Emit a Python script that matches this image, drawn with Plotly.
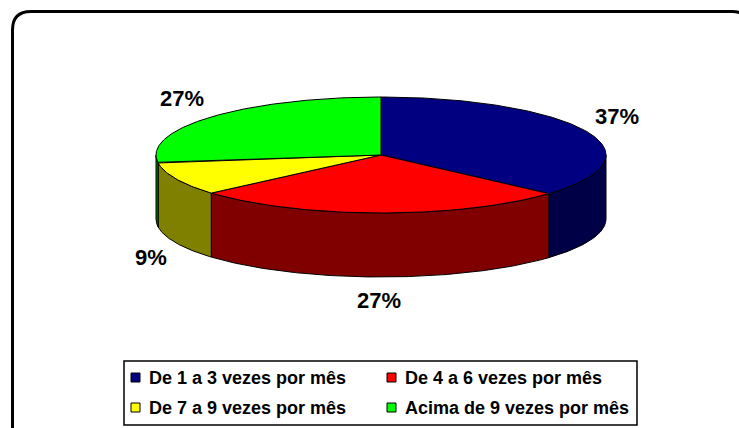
import numpy as np
import plotly.graph_objects as go

# ---- data ----
categories = ["De 1 a 3 vezes por mês", "De 4 a 6 vezes por mês",
              "De 7 a 9 vezes por mês", "Acima de 9 vezes por mês"]
values = [36.6, 27.0, 9.2, 27.2]   # percent shares (labels shown rounded)

# ---- style ----
top_colors = ["#000080", "#FF0000", "#FFFF00", "#00FF00"]
side_colors = ["#000046", "#800000", "#808000", "#008000"]
W, H = 739, 428
CX, CY, RX, RY, DEPTH = 381, 155, 225, 58, 64
FONT = "Liberation Sans, Arial, sans-serif"
LABEL_SIZE = 22

fig = go.Figure()

total = float(sum(values))
label_texts = ["%d%%" % int(round(v / total * 100)) for v in values]
starts, ends = [], []
acc = 0.0
for v in values:
    starts.append(acc / total * 360.0)
    acc += v
    ends.append(acc / total * 360.0)


def arc(a, b, dy=0.0, n=None):
    if n is None:
        n = max(4, int(abs(b - a) * 1.5))
    t = np.radians(np.linspace(a, b, n))
    return CX + RX * np.sin(t), CY - RY * np.cos(t) + dy


line = dict(color="black", width=1)

# side walls (front half only)
for i in range(len(values)):
    a = max(starts[i], 90.0)
    b = min(ends[i], 270.0)
    if b <= a:
        continue
    x1, y1 = arc(a, b)
    x2, y2 = arc(b, a, DEPTH)
    xs = np.concatenate([x1, x2, x1[:1]])
    ys = np.concatenate([y1, y2, y1[:1]])
    fig.add_trace(go.Scatter(x=xs, y=ys, mode="lines", fill="toself",
                             fillcolor=side_colors[i], line=line,
                             hoverinfo="skip", showlegend=False))

# top faces
for i in range(len(values)):
    x1, y1 = arc(starts[i], ends[i])
    xs = np.concatenate([[CX], x1, [CX]])
    ys = np.concatenate([[CY], y1, [CY]])
    fig.add_trace(go.Scatter(x=xs, y=ys, mode="lines", fill="toself",
                             fillcolor=top_colors[i], line=line,
                             name=categories[i], hoverinfo="name",
                             showlegend=False))

# data labels: box placed just outside the pie edge at the slice mid-angle
annotations = []
GX, GY = 10, 16
for i in range(len(values)):
    m = np.radians((starts[i] + ends[i]) / 2.0)
    s, c = np.sin(m), np.cos(m)
    px = CX + RX * s
    py = CY - RY * c + (DEPTH if c < 0 else 0)
    txt = label_texts[i]
    w = LABEL_SIZE * (0.556 * (len(txt) - 1) + 0.889)
    h = LABEL_SIZE * 0.72
    lx = px + GX * s + w / 2 * np.clip(3 * s, -1, 1)
    ly = py - GY * c - h / 2 * np.clip(3 * c, -1, 1)
    annotations.append(dict(x=lx, y=ly, xref="x", yref="y", text=txt,
                            showarrow=False, xanchor="center", yanchor="middle",
                            font=dict(family=FONT, size=LABEL_SIZE, color="black",
                                      weight="bold")))

shapes = []
# outer rounded frame
shapes.append(dict(type="path", xref="x", yref="y",
                   path="M 12.5,445 L 12.5,30 Q 12.5,11.5 31,11.5 L 732,11.5 "
                        "Q 750,11.5 750,30 L 750,445",
                   line=dict(color="black", width=3)))
# legend box
shapes.append(dict(type="rect", xref="x", yref="y", x0=124, x1=637, y0=361, y1=425,
                   line=dict(color="black", width=1.5), fillcolor="rgba(0,0,0,0)"))
col_x = [131, 387]
row_y = [377.5, 407.5]
for i, name in enumerate(categories):
    cx0 = col_x[i % 2]
    ry0 = row_y[i // 2]
    shapes.append(dict(type="rect", xref="x", yref="y", x0=cx0, x1=cx0 + 9,
                       y0=ry0 - 4.5, y1=ry0 + 4.5, fillcolor=top_colors[i],
                       line=dict(color="black", width=1)))
    annotations.append(dict(x=cx0 + 16, y=ry0, xref="x", yref="y", text=name,
                            showarrow=False, xanchor="left", yanchor="middle",
                            font=dict(family=FONT, size=18, color="black",
                                      weight="bold")))

fig.update_layout(
    width=W, height=H, margin=dict(l=0, r=0, t=0, b=0),
    paper_bgcolor="white", plot_bgcolor="white",
    xaxis=dict(range=[0, W], visible=False, fixedrange=True),
    yaxis=dict(range=[H, 0], visible=False, fixedrange=True),
    shapes=shapes, annotations=annotations, showlegend=False,
)

fig.write_html("out.html", config={"displayModeBar": False},
               post_script="document.body.style.margin='0';"
                           "document.body.style.overflow='hidden';")
